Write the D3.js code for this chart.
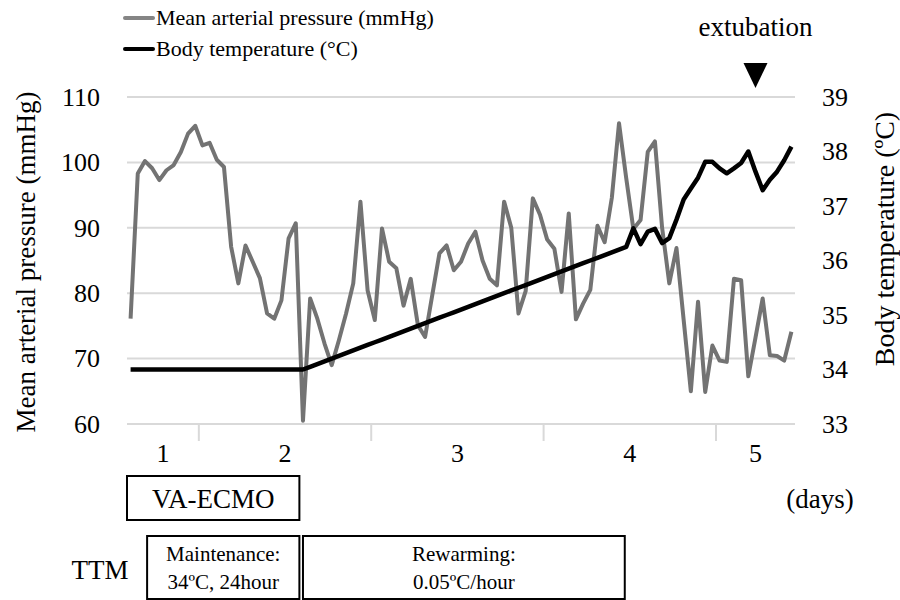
<!DOCTYPE html>
<html><head><meta charset="utf-8">
<script src="https://cdn.jsdelivr.net/npm/d3@7"></script>
<style>
body{margin:0;background:#fff}
svg{display:block}
text{font-family:"Liberation Serif","Times New Roman",serif;fill:#000}
</style>
</head><body>
<svg id="c" width="900" height="600"></svg>
<script>
// Hourly mean arterial pressure (mmHg)
const mapValues = [76.1,98.3,100.2,99.1,97.3,98.8,99.6,101.6,104.4,105.6,102.6,103.0,100.4,99.3,87.1,81.5,
87.3,84.8,82.3,76.9,76.1,78.9,88.4,90.7,60.5,79.2,76.1,72.3,69.0,72.8,76.9,81.5,94.0,80.4,75.9,89.9,
84.8,83.8,78.1,82.2,75.1,73.3,79.7,86.1,87.3,83.5,84.8,87.6,89.4,85.0,82.2,81.2,94.0,90.0,76.9,80.3,
94.5,92.0,88.2,86.8,80.2,92.2,76.0,78.4,80.5,90.3,87.8,94.6,106.0,97.6,89.8,91.2,101.6,103.2,90.0,81.5,
86.9,75.9,65.0,78.7,64.9,72.0,69.7,69.5,82.2,82.0,67.3,73.2,79.2,70.5,70.4,69.7,74.1];
// Hourly body temperature (°C)
const tempValues = [34.0,34.0,34.0,34.0,34.0,34.0,34.0,34.0,34.0,34.0,34.0,34.0,34.0,34.0,34.0,34.0,
34.0,34.0,34.0,34.0,34.0,34.0,34.0,34.0,34.0,34.05,34.1,34.15,34.2,34.25,34.3,34.35,34.4,34.45,34.5,
34.55,34.6,34.65,34.7,34.75,34.8,34.85,34.9,34.95,35.0,35.05,35.1,35.15,35.2,35.25,35.3,35.35,35.4,
35.45,35.5,35.55,35.6,35.65,35.7,35.75,35.8,35.85,35.9,35.95,36.0,36.05,36.1,36.15,36.2,36.25,36.59,
36.3,36.53,36.58,36.32,36.41,36.75,37.12,37.32,37.52,37.81,37.81,37.69,37.6,37.69,37.79,38.0,37.63,
37.29,37.48,37.63,37.84,38.09];
const dayLabels = ["1","2","3","4","5"];
const dayBoundaries = [0,10,34,58,82,93];   // hour index where each day starts/ends
const leftTicks = [60,70,80,90,100,110];
const rightTicks = [33,34,35,36,37,38,39];
const seriesNames = ["Mean arterial pressure (mmHg)","Body temperature (°C)"];
const ecmoLabel = "VA-ECMO";
const ecmoHours = [0,24];
const ttmLabel = "TTM";
const ttmPhases = [["Maintenance:","34ºC, 24hour"],["Rewarming:","0.05ºC/hour"]];
const ttmHours = [[2.8,24],[24.5,69.3]];
const extubationLabel = "extubation";
const extubationHour = 87;

const svg = d3.select("#c");
const L = 127, R = 795, T = 97, B = 424;
const n = mapValues.length;
const x = d3.scaleLinear().domain([0, n]).range([L, R]);
const yL = d3.scaleLinear().domain([60,110]).range([B, T]);
const yR = d3.scaleLinear().domain([33,39]).range([B, T]);
const xc = i => x(i + 0.5);

// gridlines
svg.append("g").selectAll("line").data(leftTicks).join("line")
  .attr("x1", L).attr("x2", R)
  .attr("y1", d => yL(d)).attr("y2", d => yL(d))
  .attr("stroke", "#d9d9d9").attr("stroke-width", 2);

// x ticks (day boundaries)
svg.append("g").selectAll("line").data(dayBoundaries.slice(1, -1)).join("line")
  .attr("x1", d => x(d)).attr("x2", d => x(d))
  .attr("y1", B).attr("y2", B + 17)
  .attr("stroke", "#d9d9d9").attr("stroke-width", 2);

// day labels
svg.append("g").selectAll("text").data(dayLabels).join("text")
  .attr("x", (d, i) => (x(dayBoundaries[i]) + x(dayBoundaries[i + 1])) / 2)
  .attr("y", 462).attr("text-anchor", "middle").attr("font-size", 26).text(d => d);

// left axis
const axL = svg.append("g").attr("transform", `translate(${L},0)`)
  .call(d3.axisLeft(yL).tickValues(leftTicks).tickFormat(d3.format("d")).tickSize(0).tickPadding(27));
axL.select(".domain").remove();
axL.selectAll("text").attr("font-size", 26).attr("font-family", '"Liberation Serif",serif').attr("fill", "#000");

// right axis
const axR = svg.append("g").attr("transform", `translate(${R},0)`)
  .call(d3.axisRight(yR).tickValues(rightTicks).tickFormat(d3.format("d")).tickSize(0).tickPadding(27));
axR.select(".domain").remove();
axR.selectAll("text").attr("font-size", 26).attr("font-family", '"Liberation Serif",serif').attr("fill", "#000");

// axis titles
svg.append("text").attr("transform", "translate(35,262) rotate(-90)")
  .attr("text-anchor", "middle").attr("font-size", 27).text("Mean arterial pressure (mmHg)");
svg.append("text").attr("transform", "translate(894,239) rotate(-90)")
  .attr("text-anchor", "middle").attr("font-size", 28).text("Body temperature (ºC)");

// lines
const mapLine = d3.line().x((d, i) => xc(i)).y(d => yL(d));
const tempLine = d3.line().x((d, i) => xc(i)).y(d => yR(d));
svg.append("path").datum(mapValues).attr("d", mapLine)
  .attr("fill", "none").attr("stroke", "#737373").attr("stroke-width", 4).attr("stroke-linejoin", "round");
svg.append("path").datum(tempValues).attr("d", tempLine)
  .attr("fill", "none").attr("stroke", "#000").attr("stroke-width", 4.5).attr("stroke-linejoin", "round");

// legend
const legendColors = ["#858585", "#000"];
const lg = svg.append("g").selectAll("g").data(seriesNames).join("g")
  .attr("transform", (d, i) => `translate(125,${18 + i * 31})`);
lg.append("line").attr("x1", 0).attr("x2", 28).attr("y1", 0).attr("y2", 0)
  .attr("stroke", (d, i) => legendColors[i]).attr("stroke-width", 4).attr("stroke-linecap", "round");
lg.append("text").attr("x", 31).attr("y", 7).attr("font-size", 22).text(d => d);

// extubation marker
const ex = xc(extubationHour);
svg.append("text").attr("x", ex).attr("y", 36).attr("text-anchor", "middle").attr("font-size", 27).text(extubationLabel);
svg.append("path").attr("d", `M${ex - 12},63 L${ex + 12},63 L${ex},88 Z`).attr("fill", "#000");

// VA-ECMO box
svg.append("rect").attr("x", x(ecmoHours[0])).attr("y", 476)
  .attr("width", x(ecmoHours[1]) - x(ecmoHours[0])).attr("height", 44)
  .attr("fill", "none").attr("stroke", "#000").attr("stroke-width", 2);
svg.append("text").attr("x", (x(ecmoHours[0]) + x(ecmoHours[1])) / 2).attr("y", 508)
  .attr("text-anchor", "middle").attr("font-size", 27).text(ecmoLabel);
svg.append("text").attr("x", 820).attr("y", 508).attr("text-anchor", "middle").attr("font-size", 27).text("(days)");

// TTM boxes
svg.append("text").attr("x", 100).attr("y", 579).attr("text-anchor", "middle").attr("font-size", 27).text(ttmLabel);
const tg = svg.append("g").selectAll("g").data(ttmPhases).join("g");
tg.append("rect").attr("x", (d, i) => x(ttmHours[i][0])).attr("y", 536)
  .attr("width", (d, i) => x(ttmHours[i][1]) - x(ttmHours[i][0])).attr("height", 63)
  .attr("fill", "none").attr("stroke", "#000").attr("stroke-width", 2);
tg.append("text").attr("x", (d, i) => (x(ttmHours[i][0]) + x(ttmHours[i][1])) / 2).attr("y", 561)
  .attr("text-anchor", "middle").attr("font-size", 21).text(d => d[0]);
tg.append("text").attr("x", (d, i) => (x(ttmHours[i][0]) + x(ttmHours[i][1])) / 2).attr("y", 589)
  .attr("text-anchor", "middle").attr("font-size", 21).text(d => d[1]);
</script>
</body></html>
